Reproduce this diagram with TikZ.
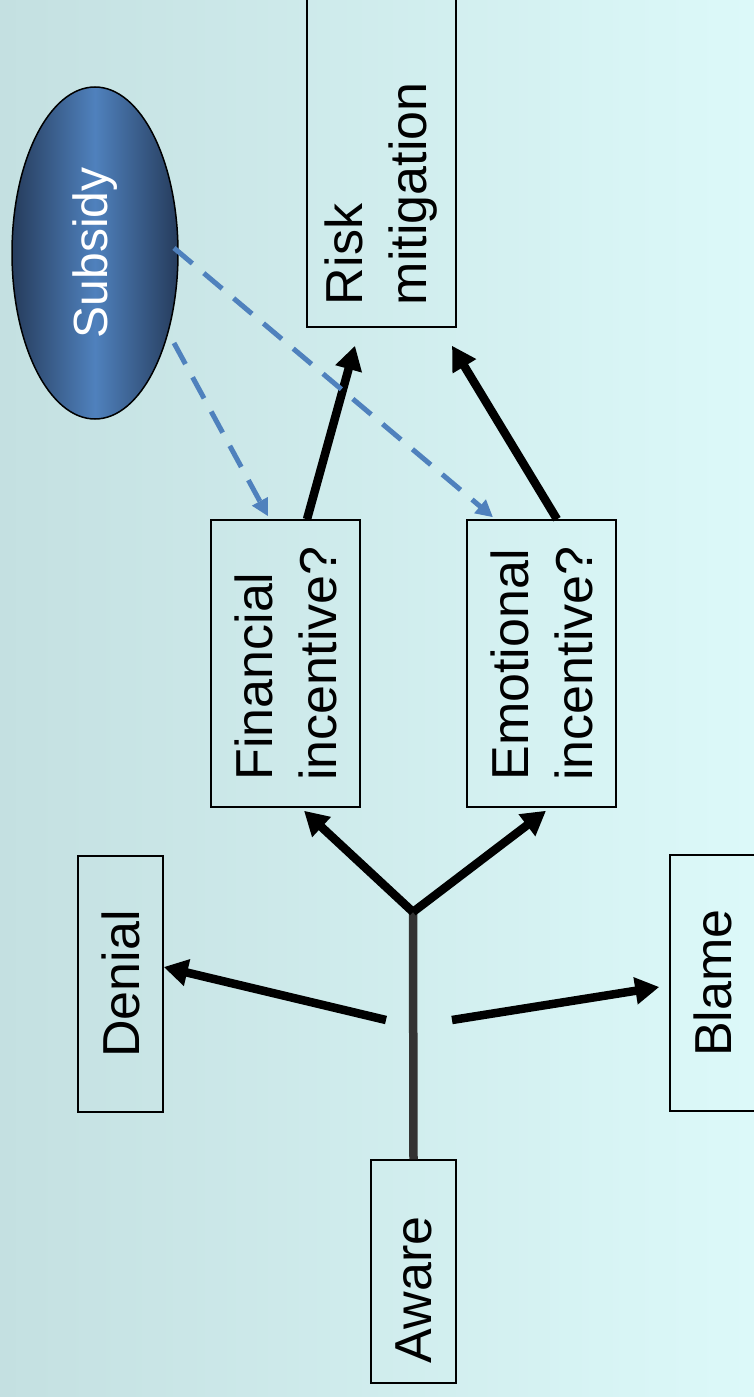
\documentclass[tikz,border=0pt]{standalone}
\usepackage{fontspec}
\setmainfont{Liberation Sans}
\usetikzlibrary{shapes.geometric,arrows.meta,calc}

\definecolor{bgleft}{RGB}{196,224,225}
\definecolor{bgright}{RGB}{220,249,249}
\definecolor{subdark}{RGB}{38,60,92}
\definecolor{sublight}{RGB}{79,129,189}
\definecolor{dashblue}{RGB}{79,129,189}
\definecolor{trunkgray}{RGB}{51,51,51}

\begin{document}
\begin{tikzpicture}[x=1pt,y=-1pt]

        \useasboundingbox (0,0) rectangle (754,1397);
        \fill[left color=bgleft,right color=bgright] (0,0) rectangle (754,1397);

        \node[ellipse,draw,line width=1.5pt,rotate=90,inner sep=0pt,
          minimum width=332pt,minimum height=166pt,
          left color=subdark,right color=subdark,middle color=sublight,
          text=white,font=\fontsize{48}{56}\selectfont] (subsidy) at (95,253) {Subsidy};

        \begin{scope}[every node/.style={draw,line width=1.5pt,rotate=90,inner sep=0pt,
            align=left,font=\fontsize{52}{64}\selectfont}]
          \node[minimum width=367pt,minimum height=149pt,text width=323pt] (risk) at (381.5,143.5) {Risk\\mitigation};
          \node[minimum width=287pt,minimum height=149pt] (fin)    at (285.5,663.5) {Financial\\incentive?};
          \node[minimum width=287pt,minimum height=149pt] (emo)    at (541.5,663.5) {Emotional\\incentive?};
          \node[minimum width=256pt,minimum height=85pt]  (denial) at (120.5,984)   {Denial};
          \node[minimum width=256pt,minimum height=85pt]  (blame)  at (712.5,983)   {Blame};
          \node[minimum width=223pt,minimum height=85pt,text width=183pt] (aware) at (413.5,1271.5) {Aware};
        \end{scope}

        \coordinate (fork)   at (413,912);
        \coordinate (dstart) at (386,1020);
        \coordinate (bstart) at (452,1020);

        \draw[trunkgray,line width=8.5pt] (aware.east) -- (fork);

        \begin{scope}[every edge/.style={draw,line width=8.5pt,-{Triangle[length=24pt,width=26pt]}}]
          \path (fork)   edge ($(fin.west)+(18.5,3)$);
          \path (fork)   edge ($(emo.west)+(4.5,3)$);
          \path (dstart) edge ($(denial.south)+(0,-17)$);
          \path (bstart) edge ($(blame.north)+(-10,4)$);
          \path ($(fin.east)+(21.5,0)$) edge ($(risk.west)+(-26.5,18)$);
          \path ($(emo.east)+(15.5,0)$) edge ($(risk.west)+(70.5,18)$);
        \end{scope}

        \begin{scope}[every edge/.style={draw,dashblue,line width=5pt,dash pattern=on 24pt off 15pt,
            -{Triangle[length=17pt,width=17pt]}}]
          \path ($(subsidy.center)+(79,90)$) edge ($(fin.east)+(-17.5,-3)$);
          \path ($(subsidy.center)+(79,-5)$) edge ($(emo.east)+(-48.5,-2)$);
        \end{scope}

      \end{tikzpicture}
\end{document}
